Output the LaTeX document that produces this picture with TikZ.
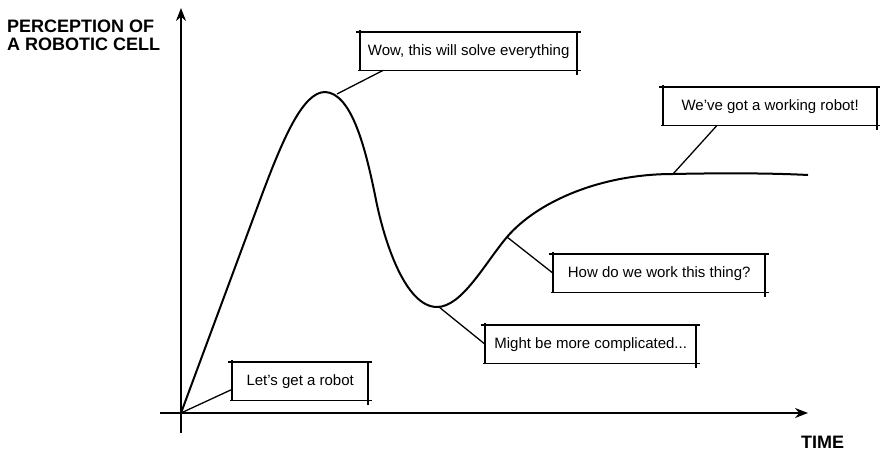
\documentclass[tikz,border=0pt]{standalone}
\usepackage{fontspec}
\setmainfont{Liberation Sans}
\usetikzlibrary{positioning,arrows.meta,calc}

\begin{document}
\begin{tikzpicture}[
  x=1pt, y=-1pt,
  axis/.style={line width=1.3pt, -{Stealth[length=13pt, width=10pt]}},
  curve/.style={line width=2pt},
  leader/.style={line width=1.3pt},
  axlabel/.style={font=\fontsize{18}{17.5}\selectfont\bfseries, inner sep=0pt, align=left},
  callout/.style={minimum height=38pt, inner sep=0pt, fill=white, font=\fontsize{15}{18}\selectfont},
  topedge/.style={line width=1.5pt},
  sideedge/.style={line width=2pt}
]
\useasboundingbox[fill=white] (0,0) rectangle (880,452);
% Axes
\coordinate (O) at (181,413);
\coordinate (ybot) at (181,433);
\coordinate (ytop) at (181,8);
\coordinate (xleft) at (160,413);
\coordinate (xright) at (808,413);
\draw[axis] (ybot) -- (ytop);
\draw[axis] (xleft) -- (xright);
\node[axlabel, anchor=north west] (ylab) at (7,20) {PERCEPTION OF\\A ROBOTIC CELL};
\node[axlabel, anchor=north west] (xlab) at (801,436) {TIME};
% Points on the curve
\coordinate (rise) at (260,200);
\coordinate (peak) at (325,92);
\coordinate (wowpt) at (337,94);
\coordinate (fall) at (376,200);
\coordinate (low) at (437,307);
\coordinate (lowpt) at (439,307);
\coordinate (howpt) at (507,237);
\coordinate (workpt) at (673,174);
\coordinate (plateau) at (808,175);
% Curve
\draw[curve] (O) -- (rise)
  .. controls (283,138) and (303,92) .. (peak)
  .. controls (352,93) and (366,150) .. (fall)
  .. controls (384,240) and (405,307) .. (low)
  .. controls (462,307) and (485,263) .. (howpt)
  .. controls (537,202) and (600,174) .. (workpt)
  .. controls (720,173) and (770,173) .. (plateau);
% Callouts
\node[callout, minimum width=136pt, anchor=north west] (lets) at (232,362) {Let’s get a robot};
\node[callout, minimum width=217pt, anchor=north west] (wow) at (360,32) {Wow, this will solve everything};
\node[callout, minimum width=211pt, anchor=north west] (might) at (485,325) {Might be more complicated...};
\node[callout, minimum width=212pt, anchor=north west] (how) at (553,254) {How do we work this thing?};
\node[callout, minimum width=214pt, anchor=north west] (works) at (663,87) {We’ve got a working robot!};
\foreach \b in {lets,wow,might,how,works}{
  \draw[topedge] ([xshift=-4pt]\b.north west) -- ([xshift=4pt]\b.north east);
  \draw[topedge] ([xshift=-2pt]\b.south west) -- ([xshift=4pt]\b.south east);
  \draw[sideedge] ([yshift=2pt]\b.north west) -- ([yshift=-1pt]\b.south west);
  \draw[sideedge] ([yshift=1pt]\b.north east) -- ([yshift=-5pt]\b.south east);
}
% Leaders
\draw[leader] (O) -- ([yshift=11pt]lets.south west);
\draw[leader] (wowpt) -- ([xshift=23pt]wow.south west);
\draw[leader] (lowpt) -- (might.west);
\draw[leader] (howpt) -- (how.west);
\draw[leader] (workpt) -- ([xshift=54pt]works.south west);
\end{tikzpicture}
\end{document}
